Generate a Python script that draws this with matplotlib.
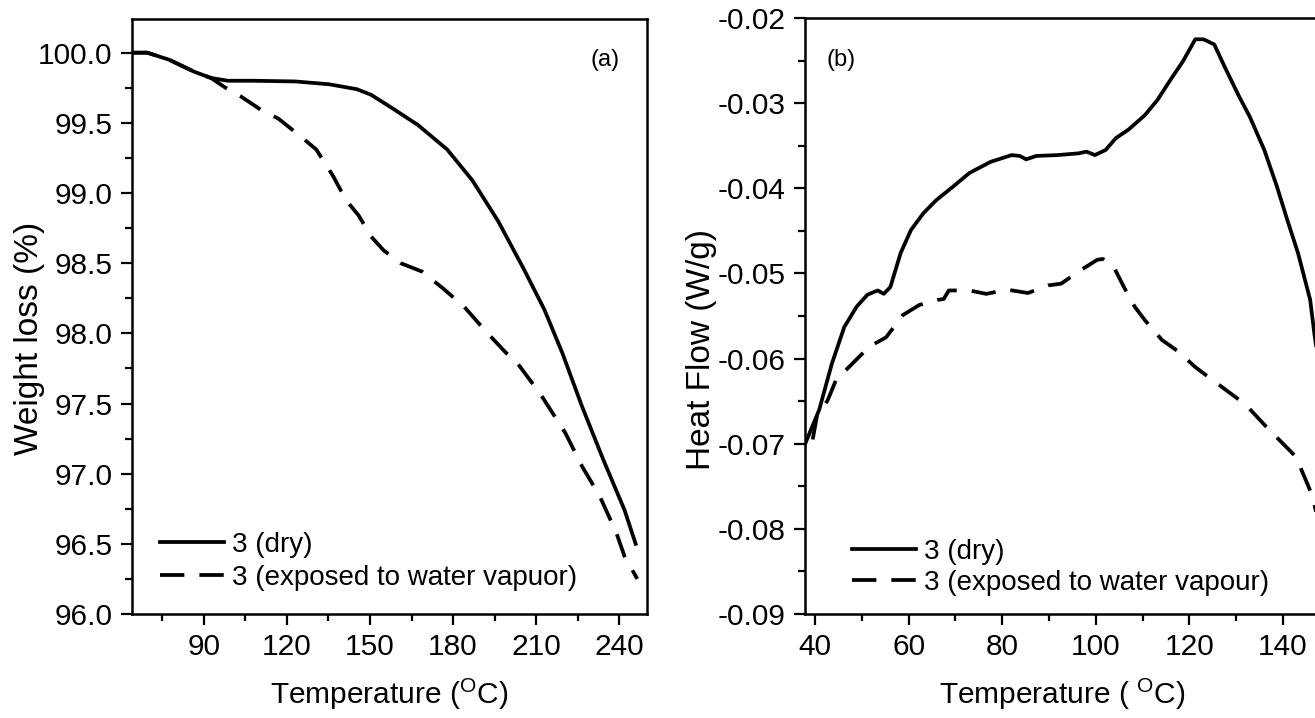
import matplotlib
matplotlib.use("Agg")
import matplotlib.pyplot as plt
from matplotlib.ticker import MultipleLocator, FormatStrFormatter

plt.rcParams['font.family'] = ['Liberation Sans', 'DejaVu Sans']
plt.rcParams['mathtext.fontset'] = 'custom'
plt.rcParams['mathtext.rm'] = 'Liberation Sans'
plt.rcParams['mathtext.it'] = 'Liberation Sans'

# ---------------- data: panel (a) TGA ----------------
tga_dry_T = [64, 69.5, 77.4, 86.4, 92.5, 98.6, 107.7, 123, 135.2, 145.2, 150.4, 158,
             167.3, 177.9, 187, 196.3, 205.4, 213, 219.5, 226.6, 234.3, 242, 246]
tga_dry_W = [100.0, 100.0, 99.95, 99.865, 99.82, 99.80, 99.80, 99.795, 99.775, 99.74, 99.70, 99.605,
             99.485, 99.31, 99.09, 98.80, 98.465, 98.17, 97.86, 97.48, 97.10, 96.74, 96.50]

tga_wet_T = [64, 69.5, 77.4, 86.4, 92.5, 97.8, 103.2, 110.8, 116.9, 124.5, 130.6, 136.7,
             141.3, 145.9, 150.4, 155, 161.1, 168.8, 176.4, 184, 191.6, 199.2, 202.4,
             211.5, 220.6, 226.7, 233, 239, 242, 246.6]
tga_wet_W = [100.0, 100.0, 99.95, 99.865, 99.82, 99.75, 99.69, 99.59, 99.53, 99.41, 99.31, 99.12,
             98.95, 98.84, 98.69, 98.59, 98.50, 98.44, 98.32, 98.19, 98.02, 97.86, 97.81,
             97.57, 97.29, 97.05, 96.84, 96.58, 96.41, 96.25]

# ---------------- data: panel (b) DSC ----------------
dsc_dry_T = [37.9, 40.9, 43.6, 46.25, 48.9, 51.2, 53.4, 54.7, 56.1, 58.3, 60.5, 63.2, 65.9,
             69.5, 73, 77.5, 82, 83.75, 85.1, 87.3, 91.8, 96.25, 98, 99.8, 102.1, 104.3,
             107, 110.5, 113.2, 115.9, 118.6, 121.25, 123, 125.3, 127.5, 130.6, 132.9, 136,
             138.7, 140.9, 143.2, 145.8, 146.7, 148.5]
dsc_dry_H = [-0.0700, -0.0660, -0.0606, -0.0563, -0.0539, -0.0525, -0.0520, -0.0524, -0.0516,
             -0.0476, -0.0449, -0.0429, -0.0414, -0.0398, -0.0382, -0.0369, -0.0361, -0.0362,
             -0.0366, -0.0362, -0.0361, -0.0359, -0.0357, -0.0361, -0.0355, -0.0341, -0.0331,
             -0.0314, -0.0296, -0.0273, -0.0251, -0.0225, -0.0225, -0.0231, -0.0257, -0.0292,
             -0.0316, -0.0355, -0.0398, -0.0437, -0.0476, -0.0531, -0.0571, -0.0640]

dsc_wet_T = [39.5, 40.4, 42.7, 44.5, 47.6, 51.6, 55.2, 58.75, 62.3, 66.3, 67.5, 68.6, 73, 76.6,
             81, 85.5, 89.9, 92.6, 96.25, 100.3, 101.5, 103.8, 106, 108.3, 110.5, 114.1, 117.7,
             121.25, 124.4, 129.3, 132, 136.4, 139.1, 142.7, 144.5, 146.25, 147.1, 148.5]
dsc_wet_H = [-0.0695, -0.0668, -0.0649, -0.0625, -0.0608, -0.0586, -0.0575, -0.0549, -0.0537,
             -0.0531, -0.0530, -0.0520, -0.0520, -0.0524, -0.0519, -0.0523, -0.0514, -0.0512,
             -0.0498, -0.0484, -0.0483, -0.0492, -0.0516, -0.0539, -0.0555, -0.0578, -0.0592,
             -0.0610, -0.0623, -0.0643, -0.0654, -0.0680, -0.0695, -0.0715, -0.0738, -0.0761,
             -0.0781, -0.0830]

label_dry = '3 (dry)'
label_wet_a = '3 (exposed to water vapuor)'
label_wet_b = '3 (exposed to water vapour)'

# ---------------- figure ----------------
W, H = 1315, 718
fig = plt.figure(figsize=(W / 100, H / 100), dpi=100)

def px_axes(left, top, right, bottom):
    return [left / W, 1 - bottom / H, (right - left) / W, (bottom - top) / H]

axA = fig.add_axes(px_axes(132, 19, 647, 614))
axB = fig.add_axes(px_axes(805, 18, 1320, 614))

LW = 2.7
DASH = [6.5, 4.0]
TICKFS = 21.5
LABFS_X = 21.5
LABFS_Y = 24
LEGFS = 20

def style(ax):
    for s in ax.spines.values():
        s.set_linewidth(1.8)
    ax.tick_params(which='both', direction='out', width=1.6, labelsize=TICKFS,
                   top=False, right=False, pad=6)
    ax.tick_params(which='major', length=8)
    ax.tick_params(which='minor', length=5)

# panel (a)
axA.plot(tga_dry_T, tga_dry_W, color='black', lw=LW, label=label_dry)
lw_a, = axA.plot(tga_wet_T, tga_wet_W, color='black', lw=LW, label=label_wet_a)
lw_a.set_dashes(DASH)
axA.set_xlim(64, 250.1)
axA.set_ylim(96.0, 100.24)
axA.xaxis.set_major_locator(MultipleLocator(30))
axA.xaxis.set_minor_locator(MultipleLocator(15))
axA.yaxis.set_major_locator(MultipleLocator(0.5))
axA.yaxis.set_minor_locator(MultipleLocator(0.25))
axA.yaxis.set_major_formatter(FormatStrFormatter('%.1f'))
style(axA)
axA.set_xlabel('Temperature ($^{\\mathrm{O}}$C)', fontsize=LABFS_X)
axA.set_ylabel('Weight loss (%)', fontsize=LABFS_Y)
axA.xaxis.set_label_coords(0.5, -0.105)
axA.yaxis.set_label_coords(-0.168, 0.464)
fig.text(620 / W, 1 - 60 / H, '(a)', fontsize=17, ha='right', va='center')
axA.legend(loc='upper left', bbox_to_anchor=(0.054, 0.138), frameon=False,
           fontsize=LEGFS, handlelength=2.3, handletextpad=0.29, labelspacing=0.24,
           borderpad=0, borderaxespad=0)

# panel (b)
axB.plot(dsc_dry_T, dsc_dry_H, color='black', lw=LW, label=label_dry)
lw_b, = axB.plot(dsc_wet_T, dsc_wet_H, color='black', lw=LW, label=label_wet_b)
lw_b.set_dashes(DASH)
axB.set_xlim(37.86, 147.9)
axB.set_ylim(-0.09, -0.02)
axB.xaxis.set_major_locator(MultipleLocator(20))
axB.xaxis.set_minor_locator(MultipleLocator(10))
axB.yaxis.set_major_locator(MultipleLocator(0.01))
axB.yaxis.set_minor_locator(MultipleLocator(0.005))
axB.yaxis.set_major_formatter(FormatStrFormatter('%.2f'))
style(axB)
axB.set_xlabel('Temperature ( $^{\\mathrm{O}}$C)', fontsize=LABFS_X)
axB.set_ylabel('Heat Flow (W/g)', fontsize=LABFS_Y)
axB.xaxis.set_label_coords(0.5, -0.105)
axB.yaxis.set_label_coords(-0.171, 0.443)
fig.text(827 / W, 1 - 60 / H, '(b)', fontsize=17, ha='left', va='center')
axB.legend(loc='upper left', bbox_to_anchor=(0.091, 0.126), frameon=False,
           fontsize=LEGFS, handlelength=2.3, handletextpad=0.29, labelspacing=0.18,
           borderpad=0, borderaxespad=0)

fig.savefig('out.png', dpi=100)
